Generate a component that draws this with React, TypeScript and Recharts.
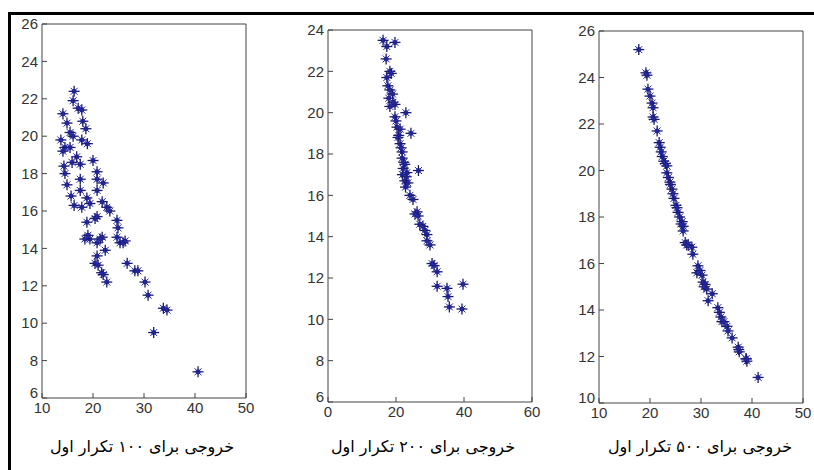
import React from "react";
import { ScatterChart, Scatter, XAxis, YAxis } from "recharts";

// Panel 1: 100 iterations
const p1x = [16.3,16.1,14.1,17.1,17.8,14.9,18.0,18.6,15.5,13.7,16.1,17.8,18.9,14.5,15.5,14.1,20.0,16.8,15.9,14.3,17.5,20.8,14.5,17.5,20.8,22.0,14.9,17.5,20.8,18.8,15.7,16.3,17.8,19.4,21.8,22.7,23.3,20.8,24.7,18.8,24.9,20.4,19.4,18.4,20.8,21.8,19.0,24.7,25.3,26.3,22.4,20.8,20.4,21.0,26.7,28.2,28.8,21.7,22.0,22.7,30.2,30.8,33.8,34.5,31.9,40.6,21.4,25.9];
const p1y = [22.4,21.9,21.2,21.5,21.4,20.7,20.8,20.4,20.2,19.8,20.0,19.8,19.6,19.4,19.4,19.2,18.7,18.9,18.6,18.4,18.5,18.1,18.0,17.7,17.7,17.5,17.4,17.1,17.1,16.7,16.8,16.3,16.2,16.4,16.5,16.2,16.0,15.7,15.5,15.4,15.1,15.6,14.5,14.5,14.3,14.6,14.7,14.6,14.3,14.4,13.9,13.6,13.2,13.1,13.2,12.8,12.8,12.7,12.6,12.2,12.2,11.5,10.8,10.7,9.5,7.4,14.5,14.3];

// Panel 2: 200 iterations
const p2x = [16.2,17.3,19.7,17.1,18.2,17.3,17.6,18.2,17.9,19.1,19.7,18.2,22.9,19.7,20.3,21.2,24.4,20.6,21.2,21.8,21.8,22.6,22.1,26.6,23.2,22.6,23.5,24.1,25.0,26.2,26.5,25.6,27.9,29.1,29.1,30.0,30.6,31.2,32.1,32.1,35.0,39.7,35.3,35.7,39.4,18.6,19.0,20.0,20.8,21.5,22.3,21.9,22.8,23.0,27.0,28.5];
const p2y = [23.5,23.2,23.4,22.6,22.0,21.7,21.3,21.1,20.7,20.5,20.4,20.3,20.0,19.8,19.3,19.2,19.0,18.8,18.5,18.1,17.8,17.5,17.3,17.2,17.1,16.7,16.6,16.0,15.8,15.2,15.0,15.1,14.5,14.1,13.8,13.6,12.7,12.6,12.3,11.6,11.5,11.7,11.1,10.6,10.5,21.9,20.9,19.6,18.9,18.3,17.6,17.0,16.4,16.9,14.6,14.3];

// Panel 3: 500 iterations
const p3x = [17.8,19.2,19.4,19.6,20.0,20.4,20.6,20.6,21.4,21.8,22.0,22.4,22.7,23.3,23.3,23.9,24.3,24.7,25.1,25.5,26.3,26.5,26.5,26.9,27.5,28.2,28.4,29.4,29.2,30.2,30.4,30.6,32.2,31.4,33.3,33.9,34.1,35.1,35.3,36.1,37.3,37.5,38.8,39.0,41.2,20.8,22.2,23.0,23.6,24.0,24.5,25.3,25.8,26.1,27.2,29.8,30.8,31.1,33.6,34.5,37.4,38.9];
const p3y = [25.2,24.2,24.1,23.5,23.2,22.9,22.7,22.3,21.7,21.2,21.0,20.6,20.4,20.2,19.9,19.5,19.2,18.8,18.5,18.2,17.8,17.6,17.4,16.9,16.8,16.7,16.4,15.9,15.6,15.5,15.2,15.0,14.7,14.4,14.1,13.7,13.5,13.3,13.1,12.8,12.4,12.2,11.9,11.8,11.1,22.2,20.8,20.3,19.7,19.4,19.0,18.4,18.0,17.7,16.8,15.7,15.1,14.9,13.9,13.5,12.3,11.9];

const p1XTicks = [10, 20, 30, 40, 50];
const p1YTicks = [6, 8, 10, 12, 14, 16, 18, 20, 22, 24, 26];
const p2XTicks = [0, 20, 40, 60];
const p2YTicks = [6, 8, 10, 12, 14, 16, 18, 20, 22, 24];
const p3XTicks = [10, 20, 30, 40, 50];
const p3YTicks = [10, 12, 14, 16, 18, 20, 22, 24, 26];

const captions = [
  "خروجی برای ۱۰۰ تکرار اول",
  "خروجی برای ۲۰۰ تکرار اول",
  "خروجی برای ۵۰۰ تکرار اول",
];

const toData = (xs: number[], ys: number[]) => xs.map((x, i) => ({ x, y: ys[i] }));

const Star = (props: any) => {
  const { cx, cy } = props;
  if (cx == null || cy == null) return null;
  const a = 5.5;
  const b = 3.5;
  return (
    <g>
      <circle cx={cx} cy={cy} r={2.5} fill="#2433d6" />
      <line x1={cx - a} y1={cy} x2={cx + a} y2={cy} stroke="#1b1b6a" strokeWidth={1.3} />
      <line x1={cx} y1={cy - a} x2={cx} y2={cy + a} stroke="#1b1b6a" strokeWidth={1.3} />
      <line x1={cx - b} y1={cy - b} x2={cx + b} y2={cy + b} stroke="#2a2aa0" strokeWidth={1} />
      <line x1={cx - b} y1={cy + b} x2={cx + b} y2={cy - b} stroke="#2a2aa0" strokeWidth={1} />
    </g>
  );
};

const fontFam = "Liberation Sans, Arial, sans-serif";
const tickStyle = { fontSize: 15, fill: "#333", fontFamily: fontFam };
const axisColor = "#444";

const makeYTick = (minVal: number) => (props: any) => {
  const { x, y, payload } = props;
  const shift = payload.value === minVal ? -5 : 0;
  return (
    <text x={x} y={y + shift} dy="0.35em" textAnchor="end" fontSize={15} fill="#333" fontFamily={fontFam}>
      {payload.value}
    </text>
  );
};

type PanelProps = {
  left: number; width: number; height: number;
  yAxisW: number; top: number; right: number; bottomH: number;
  xDomain: [number, number]; yDomain: [number, number];
  xTicks: number[]; yTicks: number[];
  data: { x: number; y: number }[];
};

const Panel = (p: PanelProps) => (
  <div style={{ position: "absolute", left: p.left, top: 0 }}>
    <ScatterChart width={p.width} height={p.height} margin={{ top: 0, right: 0, bottom: 0, left: 0 }}>
      <XAxis xAxisId="b" dataKey="x" type="number" domain={p.xDomain} ticks={p.xTicks} orientation="bottom"
        height={p.bottomH} tickSize={-5} tickMargin={9} tick={tickStyle}
        axisLine={{ stroke: axisColor }} tickLine={{ stroke: axisColor }} interval={0} allowDataOverflow />
      <XAxis xAxisId="t" type="number" domain={p.xDomain} ticks={p.xTicks} orientation="top"
        height={p.top} tickSize={-5} tick={false}
        axisLine={{ stroke: axisColor }} tickLine={{ stroke: axisColor }} interval={0} allowDataOverflow />
      <YAxis yAxisId="l" dataKey="y" type="number" domain={p.yDomain} ticks={p.yTicks} orientation="left"
        width={p.yAxisW} tickSize={-5} tickMargin={9} tick={makeYTick(p.yDomain[0])}
        axisLine={{ stroke: axisColor }} tickLine={{ stroke: axisColor }} interval={0} allowDataOverflow />
      <YAxis yAxisId="r" type="number" domain={p.yDomain} ticks={p.yTicks} orientation="right"
        width={p.right} tickSize={-5} tick={false}
        axisLine={{ stroke: axisColor }} tickLine={{ stroke: axisColor }} interval={0} allowDataOverflow />
      <Scatter xAxisId="b" yAxisId="l" data={p.data} shape={Star} isAnimationActive={false} />
    </ScatterChart>
  </div>
);

const Caption = ({ cx, text }: { cx: number; text: string }) => (
  <div dir="rtl" style={{
    position: "absolute", left: cx - 120, width: 240, top: 436, textAlign: "center",
    fontFamily: "DejaVu Sans, sans-serif", fontSize: 16, fontWeight: "normal", color: "#000", lineHeight: "22px",
  }}>{text}</div>
);

export default function App() {
  return (
    <div style={{ position: "absolute", left: 0, top: 0, width: 814, height: 470, background: "#fff", overflow: "hidden" }}>
      <div style={{ position: "absolute", left: 8, top: 12, width: 806, height: 3, background: "#000" }} />
      <div style={{ position: "absolute", left: 8, top: 12, width: 3, height: 458, background: "#000" }} />
      <Panel left={0} width={260} height={430} yAxisW={42} top={24} right={14} bottomH={32}
        xDomain={[10, 50]} yDomain={[6, 26]} xTicks={p1XTicks} yTicks={p1YTicks} data={toData(p1x, p1y)} />
      <Panel left={280} width={270} height={430} yAxisW={48} top={30} right={18} bottomH={28}
        xDomain={[0, 60]} yDomain={[6, 24]} xTicks={p2XTicks} yTicks={p2YTicks} data={toData(p2x, p2y)} />
      <Panel left={555} width={259} height={430} yAxisW={44} top={31} right={11} bottomH={27}
        xDomain={[10, 50]} yDomain={[10, 26]} xTicks={p3XTicks} yTicks={p3YTicks} data={toData(p3x, p3y)} />
      <Caption cx={142} text={captions[0]} />
      <Caption cx={423} text={captions[1]} />
      <Caption cx={700} text={captions[2]} />
    </div>
  );
}
